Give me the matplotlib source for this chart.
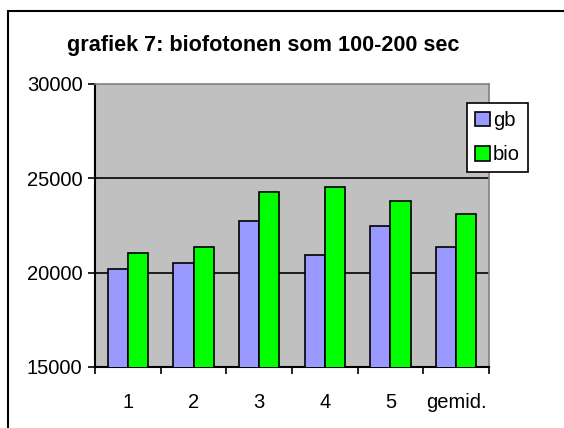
import matplotlib
matplotlib.use("Agg")
import matplotlib.pyplot as plt
import numpy as np
from matplotlib.patches import Rectangle

categories = ["1", "2", "3", "4", "5", "gemid."]
gb = [20200, 20500, 22750, 20950, 22450, 21350]
bio = [21050, 21375, 24250, 24550, 23800, 23100]
yticks = [15000, 20000, 25000, 30000]

plt.rcParams['font.family'] = ['Liberation Sans', 'DejaVu Sans']

W, H = 564, 428
fig = plt.figure(figsize=(W / 100, H / 100), dpi=100)

# outer chart border (left and top visible)
fig.add_artist(Rectangle((8 / W, -0.1), 1.2, (H - 10.5) / H + 0.1, transform=fig.transFigure,
                         fill=False, edgecolor='black', linewidth=1.5))

left, right, top, bottom = 95, 489, 84, 367
ax = fig.add_axes([left / W, 1 - bottom / H, (right - left) / W, (bottom - top) / H])
ax.set_facecolor('#C0C0C0')

x = np.arange(len(categories))
bw = 0.305
ax.bar(x - bw / 2, gb, bw, color='#9999FF', edgecolor='black', linewidth=1.2, label='gb', zorder=3)
ax.bar(x + bw / 2, bio, bw, color='#00FF00', edgecolor='black', linewidth=1.2, label='bio', zorder=3)

ax.set_ylim(15000, 30000)
ax.set_xlim(-0.5, len(categories) - 0.5)
ax.set_yticks(yticks)
ax.set_yticklabels([str(v) for v in yticks], fontsize=14.5)
for v in yticks[1:-1]:
    ax.axhline(v, color='black', linewidth=1.2, zorder=1)

ax.set_xticks(x)
ax.set_xticklabels(categories, fontsize=14.5)
ax.tick_params(axis='x', length=0, pad=19)
ax.set_xticks(np.arange(len(categories) + 1) - 0.5, minor=True)
ax.tick_params(axis='x', which='minor', length=5, width=1.2, direction='out')
ax.tick_params(axis='y', length=5, width=1.2, direction='out', pad=4)

ax.spines['left'].set_color('black')
ax.spines['left'].set_linewidth(1.5)
ax.spines['bottom'].set_color('black')
ax.spines['bottom'].set_linewidth(1.5)
ax.spines['top'].set_color('#808080')
ax.spines['right'].set_color('#808080')
ax.spines['top'].set_linewidth(1.2)
ax.spines['right'].set_linewidth(1.2)

fig.text(263 / W, 1 - 45 / H, "grafiek 7: biofotonen som 100-200 sec", ha='center', va='center',
         fontsize=15.6, fontweight='bold')

leg = fig.legend(loc='upper left', bbox_to_anchor=(467 / W, 1 - 103 / H), fontsize=14.5,
                 frameon=True, fancybox=False, edgecolor='black', framealpha=1,
                 handlelength=0.75, handleheight=0.75, handletextpad=0.15, borderpad=0.4,
                 labelspacing=0.75, borderaxespad=0)
leg.get_frame().set_linewidth(1.2)

fig.savefig("out.png", dpi=100)
